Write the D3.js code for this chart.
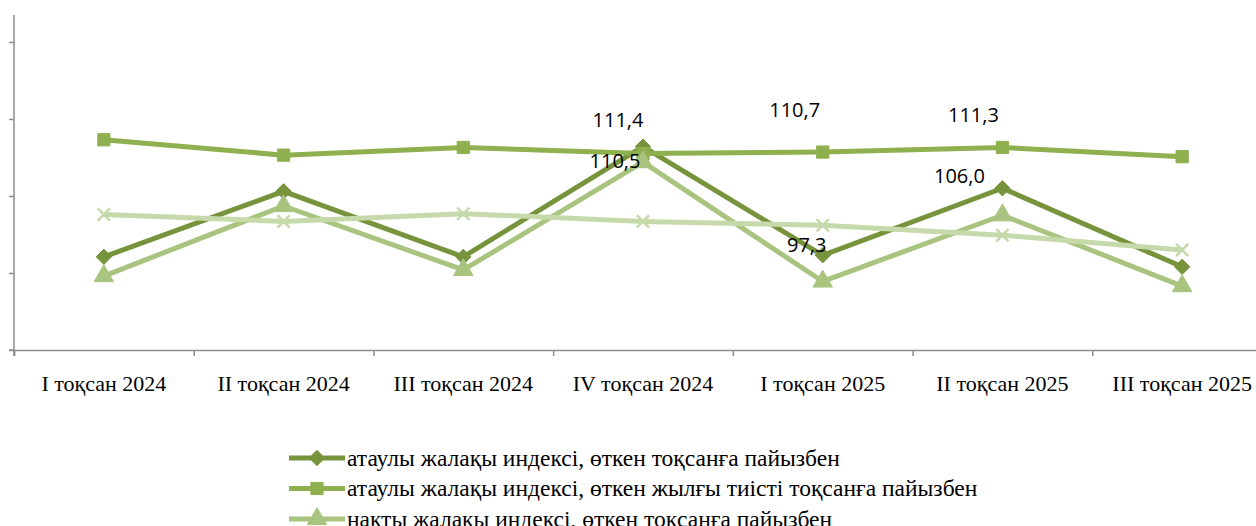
<!DOCTYPE html>
<html>
<head>
<meta charset="utf-8">
<script src="https://cdn.jsdelivr.net/npm/d3@7"></script>
<style>
  body { margin: 0; background: #fff; }
  svg { display: block; }
</style>
</head>
<body>
<script>
// quarters on the x axis
const categories = ['I тоқсан 2024', 'II тоқсан 2024', 'III тоқсан 2024', 'IV тоқсан 2024',
    'I тоқсан 2025', 'II тоқсан 2025', 'III тоқсан 2025'];

// wage indices, %
const nominalPrevQ = [97.1, 105.6, 97.1, 111.4, 97.3, 106.0, 95.8];
const nominalPrevY = [112.3, 110.3, 111.3, 110.5, 110.7, 111.3, 110.1];
const realPrevQ = [94.6, 103.7, 95.4, 109.4, 93.9, 102.5, 93.3];
const realPrevY = [102.6, 101.7, 102.7, 101.7, 101.2, 99.9, 98.0];

// legend entries visible in the picture (the 4th one falls below the edge)
const seriesNames = [
    'атаулы жалақы индексі, өткен тоқсанға пайызбен',
    'атаулы жалақы индексі, өткен жылғы тиісті тоқсанға пайызбен',
    'накты жалақы индексі, өткен тоқсанға пайызбен'
];

const yTicks = [85, 95, 105, 115, 125];

// which points carry a value label
const labelled = [
    {s: 0, i: 3, dx: -25, dy: -27},
    {s: 1, i: 3, dx: -28, dy: 7},
    {s: 1, i: 4, dx: -28, dy: -42},
    {s: 0, i: 4, dx: -16, dy: -10},
    {s: 1, i: 5, dx: -29, dy: -33},
    {s: 0, i: 5, dx: -43, dy: -12}
];

const width = 1256;
const height = 526;
const plot = {left: 14, right: 1272, top: 15, bottom: 350};

const series = [
    {values: nominalPrevQ, color: '#77933c', marker: 'diamond'},
    {values: nominalPrevY, color: '#8fb04e', marker: 'square'},
    {values: realPrevQ, color: '#a9c47f', marker: 'triangle'},
    {values: realPrevY, color: '#c6d9ab', marker: 'cross'}
];

const svg = d3.select('body')
    .append('svg')
    .attr('width', width)
    .attr('height', height);

const x = d3.scaleBand()
    .domain(categories)
    .range([plot.left, plot.right]);

const xEdges = d3.scaleLinear()
    .domain([0, categories.length])
    .range([plot.left, plot.right]);

const y = d3.scaleLinear()
    .domain([85, 128.5])
    .range([plot.bottom, plot.top]);

const axisColor = '#8c8c8c';

// y axis, ticks only
svg.append('g')
    .attr('transform', `translate(${plot.left},0)`)
    .call(d3.axisLeft(y).tickValues(yTicks).tickSize(5).tickFormat(''))
    .call(g => g.select('.domain').remove())
    .call(g => g.selectAll('line').attr('stroke', axisColor).attr('stroke-width', 1.5));

svg.append('line')
    .attr('x1', plot.left).attr('x2', plot.left)
    .attr('y1', plot.top).attr('y2', plot.bottom + 6)
    .attr('stroke', axisColor).attr('stroke-width', 1.5);

svg.append('line')
    .attr('x1', plot.left - 5).attr('x2', plot.left)
    .attr('y1', plot.bottom).attr('y2', plot.bottom)
    .attr('stroke', axisColor).attr('stroke-width', 1.5);

// x axis with ticks between categories
svg.append('g')
    .attr('transform', `translate(0,${plot.bottom})`)
    .call(d3.axisBottom(xEdges).tickValues(d3.range(categories.length + 1)).tickSize(6).tickFormat(''))
    .call(g => g.select('.domain').attr('stroke', axisColor).attr('stroke-width', 1.5))
    .call(g => g.selectAll('line').attr('stroke', axisColor).attr('stroke-width', 1.5));

svg.append('g')
    .selectAll('text')
    .data(categories)
    .join('text')
    .attr('x', d => x(d) + x.bandwidth() / 2)
    .attr('y', 391)
    .attr('text-anchor', 'middle')
    .attr('font-family', 'Liberation Serif, serif')
    .attr('font-size', 22)
    .attr('fill', '#000')
    .text(d => d);

const markerPath = (type) => {
    if (type === 'diamond') return d3.symbol(d3.symbolDiamond2, 150)();
    if (type === 'square') return d3.symbol(d3.symbolSquare2, 190)();
    if (type === 'triangle') return d3.symbol(d3.symbolTriangle, 165)();
    return d3.symbol(d3.symbolX, 100)();
};

const line = d3.line()
    .x((d, i) => x(categories[i]) + x.bandwidth() / 2)
    .y(d => y(d));

series.forEach(s => {
    const g = svg.append('g');
    g.append('path')
        .datum(s.values)
        .attr('d', line)
        .attr('fill', 'none')
        .attr('stroke', s.color)
        .attr('stroke-width', 5)
        .attr('stroke-linejoin', 'round');

    g.selectAll('path.mk')
        .data(s.values)
        .join('path')
        .attr('class', 'mk')
        .attr('transform', (d, i) => `translate(${x(categories[i]) + x.bandwidth() / 2},${y(d)})`)
        .attr('d', markerPath(s.marker))
        .attr('fill', s.marker === 'cross' ? 'none' : s.color)
        .attr('stroke', s.color)
        .attr('stroke-width', s.marker === 'cross' ? 2.5 : 1);
});

// value labels
svg.append('g')
    .selectAll('text')
    .data(labelled)
    .join('text')
    .attr('x', d => x(categories[d.i]) + x.bandwidth() / 2 + d.dx)
    .attr('y', d => y(series[d.s].values[d.i]) + d.dy)
    .attr('dy', '0.36em')
    .attr('text-anchor', 'middle')
    .attr('font-family', 'Open Sans, sans-serif')
    .attr('font-size', 20)
    .attr('fill', '#000')
    .text(d => d3.format('.1f')(series[d.s].values[d.i]).replace('.', ','));

// legend
const legend = svg.append('g')
    .attr('transform', 'translate(289,458)');

const rows = legend.selectAll('g')
    .data(seriesNames)
    .join('g')
    .attr('transform', (d, i) => `translate(0,${i * 30.5})`);

rows.append('line')
    .attr('x1', 0).attr('x2', 56)
    .attr('stroke', (d, i) => series[i].color)
    .attr('stroke-width', 5);

rows.append('path')
    .attr('transform', 'translate(28,0)')
    .attr('d', (d, i) => markerPath(series[i].marker))
    .attr('fill', (d, i) => series[i].color)
    .attr('stroke', (d, i) => series[i].color)
    .attr('stroke-width', 1);

rows.append('text')
    .attr('x', 58)
    .attr('dy', '0.33em')
    .attr('font-family', 'Liberation Serif, serif')
    .attr('font-size', 23.5)
    .attr('fill', '#000')
    .text(d => d);
</script>
</body>
</html>
